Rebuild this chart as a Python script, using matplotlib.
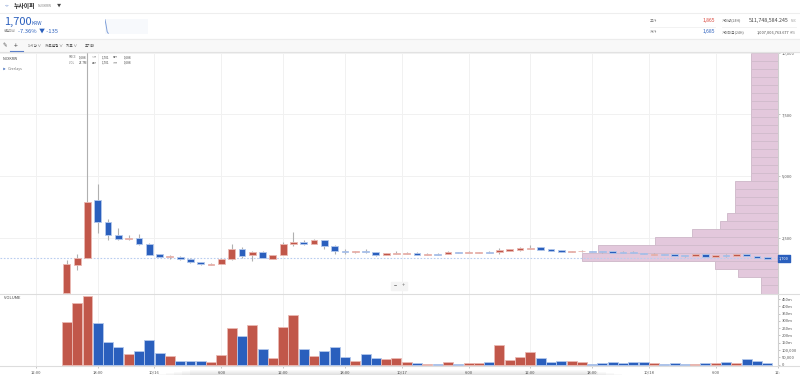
import matplotlib
matplotlib.use("Agg")
import matplotlib.pyplot as plt

plt.rcParams["font.family"] = ["Noto Sans CJK KR", "DejaVu Sans"]

W, H = 800, 375
RED, BLUE = "#c1574a", "#2a5fbd"
RED_EDGE, BLUE_EDGE = "#eab9b3", "#b3c8ec"
WICK = "#b0b0b0"
TXT = "#555555"

# hours counted from the first 12:00 tick
hours = list(range(3, 72))
opens = [256, 1394, 1667, 4024, 3130, 2602, 2439, 2467, 2236, 1817, 1707, 1720, 1614, 1504, 1394, 1423, 1614,
         2020, 1776, 1911, 1638, 1789, 2236, 2317, 2236, 2398, 2142, 1951, 1898, 1951, 1911, 1789, 1829, 1829,
         1882, 1789, 1841, 1841, 1911, 1870, 1882, 1923, 1898, 1963, 1992, 2032, 2102, 2032, 1992, 1923, 1940,
         1951, 1951, 1951, 1923, 1923, 1870, 1801, 1829, 1829, 1789, 1760, 1829, 1720, 1789, 1760, 1817, 1748, 1695]
highs = [1585, 1829, 10300, 4675, 3240, 2874, 2602, 2642, 2264, 1829, 1789, 1748, 1654, 1524, 1476, 1654, 2236,
         2126, 1951, 1951, 1800, 2317, 2724, 2398, 2451, 2398, 2195, 2020, 1963, 2045, 1923, 1890, 1963, 1923,
         1900, 1850, 1860, 1951, 1925, 1951, 1930, 1935, 2061, 2030, 2110, 2195, 2130, 2040, 2000, 1970, 1980,
         1960, 1960, 1965, 1935, 1935, 1880, 1880, 1840, 1835, 1800, 1835, 1840, 1800, 1840, 1840, 1840, 1760, 1700]
lows = [244, 1179, 1650, 2683, 2398, 2398, 2398, 2195, 1789, 1695, 1638, 1598, 1476, 1402, 1382, 1411, 1585,
        1679, 1557, 1654, 1630, 1780, 2154, 2195, 2236, 2045, 1829, 1841, 1882, 1890, 1748, 1789, 1817, 1829,
        1789, 1780, 1789, 1829, 1850, 1870, 1880, 1870, 1841, 1950, 1950, 2040, 2000, 1950, 1920, 1900, 1920,
        1900, 1880, 1860, 1880, 1870, 1810, 1795, 1780, 1740, 1700, 1755, 1700, 1715, 1720, 1755, 1740, 1650, 1640]
closes = [1423, 1667, 3955, 3118, 2589, 2451, 2480, 2224, 1801, 1707, 1748, 1614, 1504, 1423, 1423, 1614, 2020,
          1760, 1898, 1667, 1789, 2236, 2317, 2236, 2398, 2154, 1951, 1898, 1951, 1898, 1789, 1870, 1870, 1882,
          1789, 1841, 1789, 1923, 1857, 1923, 1923, 1870, 1992, 2020, 2073, 2085, 2004, 1963, 1923, 1963, 1960,
          1911, 1895, 1870, 1882, 1882, 1829, 1841, 1801, 1748, 1736, 1829, 1720, 1789, 1736, 1817, 1760, 1667, 1638]
volumes = [295, 421, 473, 285, 152, 123, 72, 95, 166, 79, 56, 24, 22, 22, 20, 65, 251, 194, 269, 104, 42, 256, 343,
           107, 61, 93, 120, 49, 24, 72, 42, 40, 47, 17, 10, 4, 4, 15, 4, 10, 10, 15, 132, 31, 52, 84, 45, 17, 24,
           22, 15, 6, 8, 17, 10, 17, 17, 10, 4, 8, 4, 4, 10, 10, 15, 10, 38, 24, 10]

# volume profile, bottom row first
profile = [17, 17, 40, 63, 196, 180, 123, 86, 58, 51, 43, 43, 43, 43] + [27] * 16
profile_base = 224
profile_step = 326

time_ticks = [0, 6, 11.5, 18, 24, 30, 35.5, 42, 48, 54, 59.5, 66, 72]
time_labels = ["12:00", "18:00", "10/16", "6:00", "12:00", "18:00", "10/17", "6:00", "12:00", "18:00", "10/18", "6:00", "12:"]
price_ticks = [2500, 5000, 7500, 10000]
price_labels = ["2,500", "5,000", "7,500", "10,000"]
vol_ticks = [0, 50, 100, 150, 200, 250, 300, 350, 400, 450]
vol_labels = ["0", "50,000", "100,000", "150m", "200m", "250m", "300m", "350m", "400m", "450m"]
last_price = 1654

spark_x = [0, 1, 2, 3]
spark_y = [1865, 1800, 1720, 1700]


def box(left, top, right, bottom):
    return [left / W, 1 - bottom / H, (right - left) / W, (bottom - top) / H]


def style_pane(ax):
    for s in ax.spines.values():
        s.set_visible(False)
    ax.spines["right"].set_visible(True)
    ax.spines["right"].set_color("#cfcfcf")
    ax.spines["right"].set_linewidth(0.8)
    ax.yaxis.tick_right()
    ax.tick_params(axis="y", length=1.5, width=0.4, color="#999999", labelsize=3, labelcolor=TXT, pad=1)
    ax.set_xlim(-3.495, 72.04)
    ax.set_xticks(time_ticks)
    ax.grid(True, color="#f1f1f1", linewidth=0.7)
    ax.set_axisbelow(True)


fig = plt.figure(figsize=(8, 3.75), dpi=100, facecolor="white")

# ---- price pane: grid at the bottom, then profile, then candles ----
ax = fig.add_axes(box(0, 52, 778, 293.5), zorder=1)
style_pane(ax)
ax.set_ylim(224, 10040)
ax.set_yticks(price_ticks)
ax.set_yticklabels(price_labels)
ax.tick_params(axis="x", length=0, labelbottom=False)

prof = ax.twiny()
prof.set_xlim(778, 0)
prof.barh([profile_base + profile_step * (i + 0.5) for i in range(len(profile))], profile, height=profile_step,
          color="#e3c8dc", edgecolor="#d2bccd", linewidth=0.7)
prof.axis("off")
prof.set_zorder(2)

cax = fig.add_axes(box(0, 52, 778, 293.5), zorder=3, sharex=ax, sharey=ax)
cax.axis("off")
for x, o, h, l, c in zip(hours, opens, highs, lows, closes):
    up = c >= o
    cax.vlines(x, l, h, color=WICK, linewidth=0.8, zorder=3)
    cax.bar(x, abs(c - o), bottom=min(o, c), width=0.66, color=RED if up else BLUE,
            edgecolor=RED_EDGE if up else BLUE_EDGE, linewidth=0.6, zorder=4)
cax.axhline(last_price, color="#b9cdf0", linewidth=0.8, linestyle=(0, (1.5, 1.5)), zorder=2)

# ---- volume pane ----
vax = fig.add_axes(box(0, 294.5, 778, 366))
style_pane(vax)
vax.set_ylim(-10, 481)
vax.set_yticks(vol_ticks)
vax.set_yticklabels(vol_labels)
vax.grid(False, axis="y")
vax.set_xticklabels(time_labels)
vax.tick_params(axis="x", length=1.5, width=0.4, color="#999999", labelsize=3, labelcolor=TXT, pad=2)
vax.bar(hours, volumes, width=0.97, color=[RED if c >= o else BLUE for o, c in zip(opens, closes)],
        edgecolor=[RED_EDGE if c >= o else BLUE_EDGE for o, c in zip(opens, closes)], linewidth=0.6, zorder=3)

# ---- page chrome, in pixels ----
ui = fig.add_axes([0, 0, 1, 1], zorder=5)
ui.set_xlim(0, W)
ui.set_ylim(H, 0)
ui.axis("off")
ui.patch.set_visible(False)

ui.fill_between([0, 800], 39, 51.5, color="#f8f8f8", zorder=0)
for y, col in [(12.5, "#eeeeee"), (39, "#ececec"), (51.5, "#e2e2e2"), (294, "#dddddd"), (366, "#dddddd")]:
    ui.plot([0, 800], [y, y], color=col, linewidth=0.8)
ui.plot([10, 23], [50.8, 50.8], color="#5b7fc9", linewidth=0.8)
ui.plot([650, 715], [26.5, 26.5], color="#f0f0f0", linewidth=0.6)
ui.plot([722, 796], [26.5, 26.5], color="#f0f0f0", linewidth=0.6)

# scroll shadow under the time axis
for i in range(5):
    ui.fill_between([190 - i * 8, 590 + i * 8], 375 - (5 - i), 375, color="#000000", alpha=0.025, linewidth=0)

t = lambda x, y, s, size=3, col=TXT, **kw: ui.text(x, y, s, fontsize=size, color=col, va="center", **kw)
t(5, 6, "<>", 3, "#5b7fc9")
t(14, 6, "누사이퍼", 4.2, "#222222", fontweight="bold")
t(37.5, 6.3, "NUXKRW", 2.4, "#888888")
t(57, 6, "▼", 3, "#444444")
t(4.5, 22, "1,700", 8, "#2a5fbd")
t(31.5, 23.5, "KRW", 3.5, "#2a5fbd")
t(4, 31.5, "전일대비", 2.4, "#888888")
t(18, 31.5, "-7.36%  ▼ -135", 4.2, "#2a5fbd")

t(3, 46, "✎", 4, "#555555")
t(14, 46, "+", 5, "#444444")
t(28, 46, "1시간 ∨", 2.6, "#444444")
t(45, 46, "차트설정 ∨", 2.6, "#444444")
t(66.5, 46, "지표 ∨", 2.6, "#444444")
t(85, 46, "초기화", 2.6, "#444444")

t(3, 58.5, "NUXKRW", 2.6, "#444444")
t(3, 69, "▶", 2, "#3a66b8")
t(7.5, 69, "Overlays", 2.6, "#777777")
t(69, 57.5, "PRICE", 2, "#777777")
t(79, 57.5, "1,688", 2.2, "#444444")
t(69, 62.8, "VOL", 2, "#777777")
t(79, 62.8, "27.7M", 2.2, "#444444")
t(92, 57.5, "시가", 2, "#777777")
t(102, 57.5, "1,701", 2.2, "#444444")
t(113, 57.5, "종가", 2, "#777777")
t(124, 57.5, "1,688", 2.2, "#444444")
t(92, 62.8, "고가", 2, "#777777")
t(102, 62.8, "1,701", 2.2, "#444444")
t(113, 62.8, "저가", 2, "#777777")
t(124, 62.8, "1,688", 2.2, "#444444")

t(650, 20.5, "고가", 2.8, "#777777")
t(715, 20.5, "1,865", 3.6, "#d9443a", ha="right")
t(650, 32, "저가", 2.8, "#777777")
t(715, 32, "1,685", 3.6, "#2a5fbd", ha="right")
t(722, 20.5, "거래량(24H)", 2.6, "#666666")
t(789, 20.5, "511,748,584.245", 3.8, "#444444", ha="right")
t(796, 20.5, "NUX", 2, "#999999", ha="right")
t(789, 32.5, "1,007,006,763.677", 2.8, "#444444", ha="right")
t(796, 32.5, "KRW", 2, "#999999", ha="right")
t(722, 32.5, "거래대금(24H)", 2.6, "#666666")

# price tag and zoom buttons
ui.fill_between([778, 790], 254.5, 261.5, color="#2a5fbd", zorder=6)
t(784, 258, "1,700", 2.8, "white", ha="center", zorder=7)
ui.fill_between([391, 407], 282, 290, color="#f4f4f4", zorder=6)
t(395, 286, "−", 4, "#666666", ha="center", zorder=7)
t(403.5, 286, "+", 4, "#666666", ha="center", zorder=7)
ui.fill_between([2, 22], 295.5, 302, color="white", zorder=6)
t(4, 298.3, "VOLUME", 3, "#444444", zorder=7)

# sparkline
sp = fig.add_axes(box(105, 19, 148, 34), zorder=4)
sp.set_facecolor("#f7f9fc")
sp.plot(spark_x, spark_y, color="#7f9fd8", linewidth=0.7)
sp.set_xlim(0, 40)
sp.set_xticks([])
sp.set_yticks([])
for s in sp.spines.values():
    s.set_visible(False)

plt.savefig("out.png", dpi=100)
